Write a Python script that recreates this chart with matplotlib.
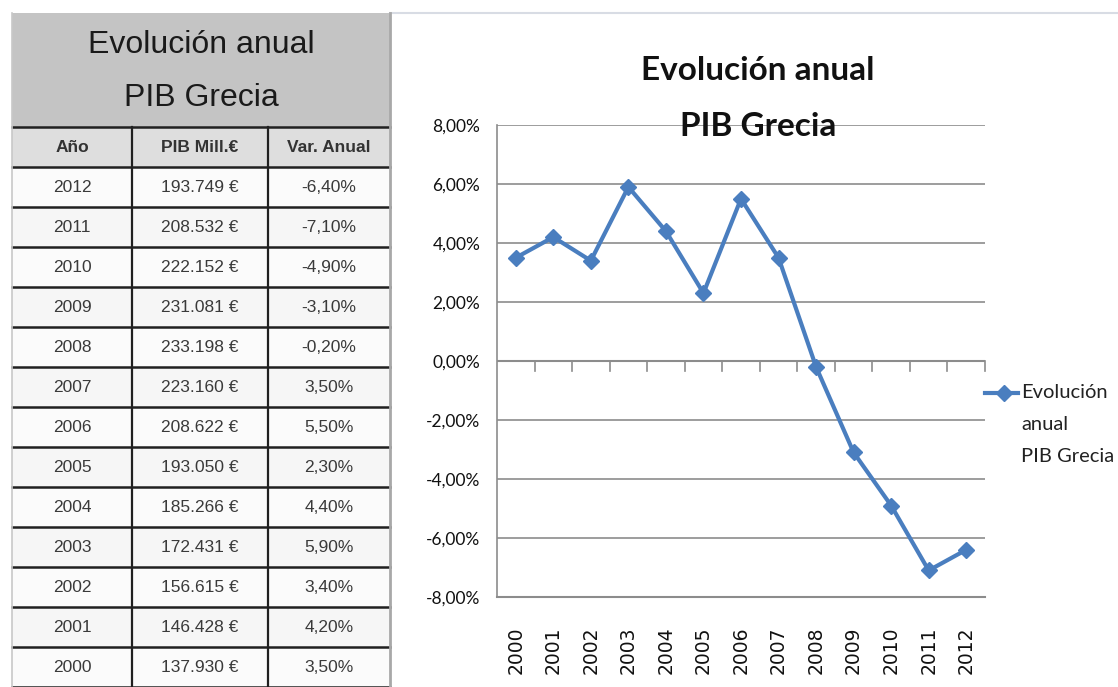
import matplotlib
matplotlib.use("Agg")
import matplotlib.pyplot as plt
from matplotlib.patches import Rectangle
from matplotlib.lines import Line2D
from matplotlib.ticker import FuncFormatter

# ---- data ----
years = [2000, 2001, 2002, 2003, 2004, 2005, 2006, 2007, 2008, 2009, 2010, 2011, 2012]
pib_mill = ["137.930", "146.428", "156.615", "172.431", "185.266", "193.050", "208.622",
            "223.160", "233.198", "231.081", "222.152", "208.532", "193.749"]
var_anual = [3.5, 4.2, 3.4, 5.9, 4.4, 2.3, 5.5, 3.5, -0.2, -3.1, -4.9, -7.1, -6.4]
title_lines = ["Evolución anual", "PIB Grecia"]
headers = ["Año", "PIB Mill.€", "Var. Anual"]
legend_lines = ["Evolución", "anual", "PIB Grecia"]

W, H = 1118, 687
fig = plt.figure(figsize=(W / 100, H / 100), dpi=100)
fig.patch.set_facecolor("white")

narrow = ["Liberation Sans", "DejaVu Sans"]
chartfont = ["Lato", "DejaVu Sans"]

# ---- table (drawn in pixel coordinates) ----
tab = fig.add_axes([0, 0, 1, 1])
tab.set_xlim(0, W)
tab.set_ylim(H, 0)
tab.axis("off")

x0, x1, x2, x3 = 12, 132, 268, 390
top = 13
title_bot = 127
head_bot = 167
row_h = 40

tab.plot([x3, W], [top, top], color="#d8dce4", lw=1.5)

tab.add_patch(Rectangle((x0, top), x3 - x0, title_bot - top, facecolor="#c4c4c4", edgecolor="none"))
tab.add_patch(Rectangle((x0, title_bot), x3 - x0, head_bot - title_bot, facecolor="#dedede", edgecolor="none"))
tab.text((x0 + x3) / 2, 45, title_lines[0], ha="center", va="center",
         fontsize=23, family=narrow, color="#1a1a1a")
tab.text((x0 + x3) / 2, 98, title_lines[1], ha="center", va="center",
         fontsize=23, family=narrow, color="#1a1a1a")
cx = [(x0 + x1) / 2, (x1 + x2) / 2, (x2 + x3) / 2]
for c, h in zip(cx, headers):
    tab.text(c, (title_bot + head_bot) / 2 + 1, h, ha="center", va="center",
             fontsize=12.5, family=narrow, weight="bold", color="#333333")

rows = list(zip(years, pib_mill, var_anual))[::-1]
for i, (yr, pm, va) in enumerate(rows):
    yt = head_bot + i * row_h
    tab.add_patch(Rectangle((x0, yt), x3 - x0, row_h, facecolor="#f6f6f6" if i % 2 else "#fbfbfb",
                            edgecolor="none"))
    yc = yt + row_h / 2 + 1
    tab.text(cx[0], yc, str(yr), ha="center", va="center", fontsize=12.5, family=narrow, color="#3a3a3a")
    tab.text(cx[1], yc, pm + " €", ha="center", va="center", fontsize=12.5, family=narrow, color="#3a3a3a")
    tab.text(cx[2], yc, ("%.2f%%" % va).replace(".", ","), ha="center", va="center",
             fontsize=12.5, family=narrow, color="#3a3a3a")

for i in range(len(rows) + 1):
    yl = head_bot + i * row_h
    tab.plot([x0, x3], [yl, yl], color="#202020", lw=1.8)
tab.plot([x0, x3], [title_bot, title_bot], color="#202020", lw=1.8)
for xv in (x1, x2):
    tab.plot([xv, xv], [title_bot, H], color="#202020", lw=1.6)
tab.plot([x0, x0], [top, H], color="#c8c8c8", lw=1.2)
tab.plot([x3, x3], [top, H], color="#a8a8a8", lw=2.0)

# ---- chart ----
L, R, T, B = 497, 985, 125, 597
ax = fig.add_axes([L / W, 1 - B / H, (R - L) / W, (B - T) / H])
xs = list(range(len(years)))
vals = [v / 100 for v in var_anual]
blue = "#4a7ebf"
ax.plot(xs, vals, color=blue, lw=3.0, marker="D", markersize=8.5, zorder=5, solid_joinstyle="miter")
ax.set_xlim(-0.5, len(years) - 0.5)
ax.set_ylim(-0.08, 0.08)
ax.set_yticks([-0.08, -0.06, -0.04, -0.02, 0, 0.02, 0.04, 0.06, 0.08])
ax.yaxis.set_major_formatter(FuncFormatter(
    lambda v, p: ("%.2f%%" % (v * 100)).replace(".", ",").replace("-0,00", "0,00")))
ax.grid(axis="y", color="#8c8c8c", lw=1.2)
ax.set_axisbelow(True)
for s in ("top", "right"):
    ax.spines[s].set_visible(False)
ax.spines["left"].set_color("#8c8c8c")
ax.spines["left"].set_linewidth(1.2)
ax.spines["bottom"].set_color("#8c8c8c")
ax.spines["bottom"].set_linewidth(1.5)
ax.tick_params(axis="y", length=0, pad=12, labelsize=12.5, labelcolor="#111111")
for lab in ax.get_yticklabels():
    lab.set_family(chartfont)
ax.set_xticks(xs)
ax.set_xticklabels([str(y) for y in years], rotation=90, fontsize=13.5, family="DejaVu Sans", color="#111111")
ax.tick_params(axis="x", length=0, pad=21)
ax.axhline(0, color="#8c8c8c", lw=1.5, zorder=2)
for k in range(len(years)):
    xb = k + 0.5
    ax.plot([xb, xb], [0, -0.0033], color="#8c8c8c", lw=1.2, zorder=2, clip_on=False)

fig.text(758 / W, 1 - 70 / H, title_lines[0], ha="center", va="center", fontsize=24, weight="bold",
         family=chartfont, color="#111111")
fig.text(758 / W, 1 - 126 / H, title_lines[1], ha="center", va="center", fontsize=24, weight="bold",
         family=chartfont, color="#111111")

# legend
lx0, lx1, ly = 985, 1018, 393
lg = fig.add_axes([0, 0, 1, 1], facecolor="none")
lg.set_xlim(0, W)
lg.set_ylim(H, 0)
lg.axis("off")
lg.add_line(Line2D([lx0, lx1], [ly, ly], color=blue, lw=3.0))
lg.plot([1004], [ly], marker="D", markersize=8, color=blue)
for j, t in enumerate(legend_lines):
    lg.text(1021, ly + 32 * j, t, ha="left", va="center", fontsize=14.5, family=chartfont, color="#222222")

fig.savefig("out.png", dpi=100, facecolor="white")
